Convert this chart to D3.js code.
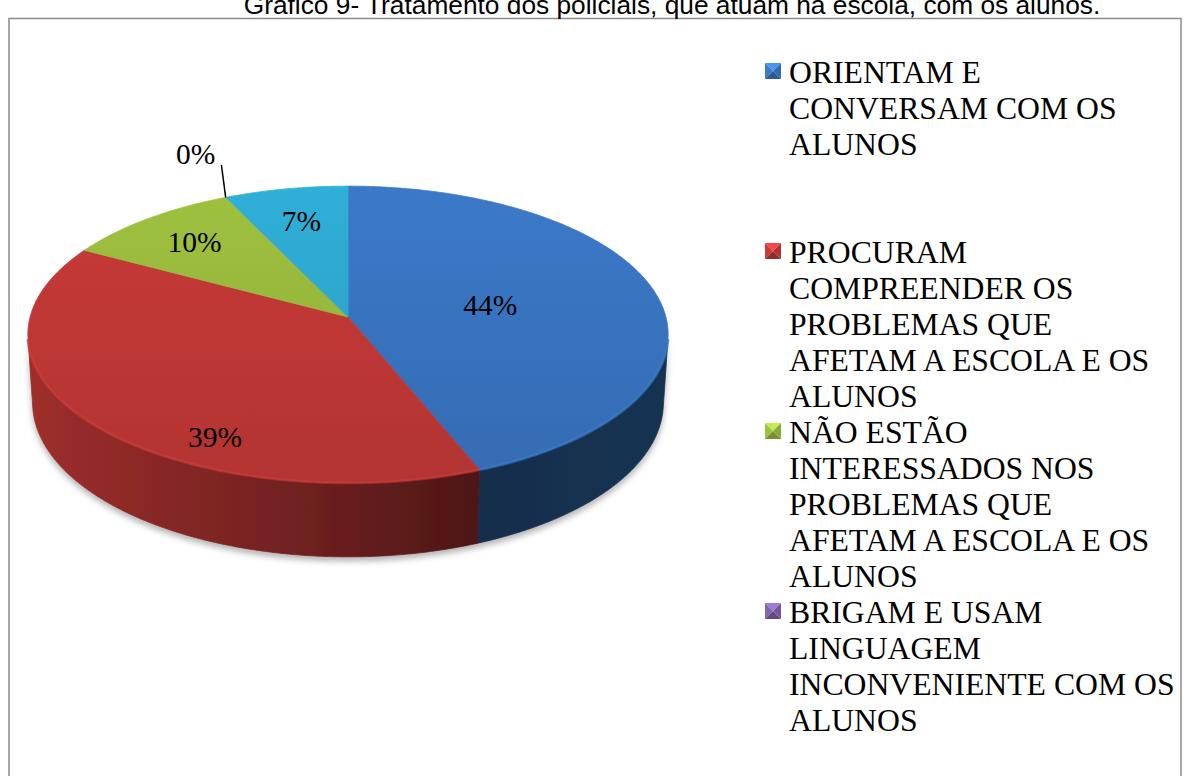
<!DOCTYPE html>
<html>
<head>
<meta charset="utf-8">
<script src="https://cdn.jsdelivr.net/npm/d3@7"></script>
<style>
  body { margin: 0; background: #fff; }
  svg { display: block; }
</style>
</head>
<body>
<svg id="grafico" width="1190" height="776"></svg>
<script>
// dados (rótulos em %)
const titulo = "Gráfico 9- Tratamento dos policiais, que atuam na escola, com os alunos."
const valores = [44, 39, 10, 0, 7]
const categorias = [
    ["ORIENTAM E", "CONVERSAM COM OS", "ALUNOS"],
    ["PROCURAM", "COMPREENDER OS", "PROBLEMAS QUE", "AFETAM A ESCOLA E OS", "ALUNOS"],
    ["NÃO ESTÃO", "INTERESSADOS NOS", "PROBLEMAS QUE", "AFETAM A ESCOLA E OS", "ALUNOS"],
    ["BRIGAM E USAM", "LINGUAGEM", "INCONVENIENTE COM OS", "ALUNOS"],
    [] // quinta entrada da legenda fica fora da área visível
]
const cores = ["#3974c0", "#c03836", "#98b93c", "#7d5fa6", "#2ea8cf"]

// posição dos rótulos (raio relativo e desvio de ângulo em graus)
const raioRotulo = [0.46, 0.84, 0.75, 1.4, 0.73]
const desvioRotulo = [0, -21.6, 0, 2, 0]

const svg = d3.select("#grafico")
const defs = svg.append("defs")

// moldura e título
svg.append("rect")
    .attr("x", 9).attr("y", 18.5)
    .attr("width", 1172).attr("height", 800)
    .attr("fill", "#fff")
    .attr("stroke", "#8c8c8c")
    .attr("stroke-width", 1.5)

svg.append("text")
    .attr("x", 672).attr("y", 14)
    .attr("text-anchor", "middle")
    .style("font-family", "'Liberation Sans', Arial, sans-serif")
    .style("font-size", "26.3px")
    .text(titulo)

// projeção em perspectiva da pizza 3D
const phi = 27.4 * Math.PI / 180
const dist = 7.54
const focal = 2397
const espessura = 0.244
const centro = {x: 348, y: 317}

function projetar(r, t, z) {
    const x = r * Math.sin(t)
    const y = r * Math.cos(t)
    const prof = y * Math.cos(phi) - z * Math.sin(phi) + dist
    const alto = y * Math.sin(phi) + z * Math.cos(phi)
    return [centro.x + focal * x / prof, centro.y - focal * alto / prof]
}

// faixa de ângulos em que a parede externa é visível
const limite = Math.acos(-1 / (dist * Math.cos(phi)))
const visIni = limite, visFim = 2 * Math.PI - limite

const pie = d3.pie().sort(null).startAngle(0).endAngle(2 * Math.PI)
const fatias = pie(valores)

function amostrar(a0, a1, z) {
    const n = Math.max(2, Math.ceil(Math.abs(a1 - a0) / (Math.PI / 360)))
    return d3.range(n + 1).map(i => projetar(1, a0 + (a1 - a0) * i / n, z))
}

const linha = d3.line()

// gradientes
fatias.forEach((d, i) => {
    const base = d3.color(cores[i])
    const gTopo = defs.append("linearGradient")
        .attr("id", "topo" + i)
        .attr("gradientUnits", "userSpaceOnUse")
        .attr("x1", 0).attr("y1", 186).attr("x2", 0).attr("y2", 490)
    gTopo.append("stop").attr("offset", 0).attr("stop-color", base.brighter(0.12))
    gTopo.append("stop").attr("offset", 1).attr("stop-color", base.darker(0.22))

    const gParede = defs.append("linearGradient")
        .attr("id", "parede" + i)
        .attr("gradientUnits", "userSpaceOnUse")
        .attr("x1", 30).attr("y1", 0).attr("x2", 666).attr("y2", 0)
    const paradas = [[0, 0.55], [0.45, 1.6], [0.72, 2.6], [1, 2.35]]
    for (const p of paradas) {
        gParede.append("stop").attr("offset", p[0]).attr("stop-color", base.darker(p[1]))
    }
})

const sombra = defs.append("filter").attr("id", "sombra")
    .attr("x", "-10%").attr("y", "-10%").attr("width", "120%").attr("height", "130%")
sombra.append("feDropShadow")
    .attr("dx", 0).attr("dy", 4).attr("stdDeviation", 3)
    .attr("flood-color", "#000").attr("flood-opacity", 0.3)

const pizza = svg.append("g")

// paredes laterais
const paredes = pizza.append("g").attr("filter", "url(#sombra)")
fatias.forEach((d, i) => {
    const a0 = Math.max(d.startAngle, visIni)
    const a1 = Math.min(d.endAngle, visFim)
    if (a1 <= a0) return
    const pts = amostrar(a0, a1, 0).concat(amostrar(a1, a0, -espessura))
    paredes.append("path")
        .attr("d", linha(pts) + "Z")
        .attr("fill", `url(#parede${i})`)
        .attr("stroke", `url(#parede${i})`)
        .attr("stroke-width", 0.8)
})

// faces superiores
fatias.forEach((d, i) => {
    if (d.endAngle - d.startAngle <= 0) return
    const pts = [projetar(0, 0, 0)].concat(amostrar(d.startAngle, d.endAngle, 0))
    pizza.append("path")
        .attr("d", linha(pts) + "Z")
        .attr("fill", `url(#topo${i})`)
        .attr("stroke", `url(#topo${i})`)
        .attr("stroke-width", 0.8)
})

// leve brilho na borda frontal
fatias.forEach((d, i) => {
    const a0 = Math.max(d.startAngle, visIni)
    const a1 = Math.min(d.endAngle, visFim)
    if (a1 <= a0) return
    pizza.append("path")
        .attr("d", linha(amostrar(a0, a1, 0)))
        .attr("fill", "none")
        .attr("stroke", d3.color(cores[i]).brighter(0.2))
        .attr("stroke-width", 3)
        .attr("stroke-opacity", 0.55)
})

// rótulos de dados
const rotulos = svg.append("g")
    .style("font-family", "'Liberation Serif', 'Times New Roman', serif")
    .style("font-size", "29.5px")

fatias.forEach((d, i) => {
    const meio = (d.startAngle + d.endAngle) / 2 + desvioRotulo[i] * Math.PI / 180
    const p = projetar(raioRotulo[i], meio, 0)
    const txt = rotulos.append("text")
        .attr("x", p[0]).attr("y", p[1])
        .attr("dy", "0.35em")
        .attr("text-anchor", "middle")
        .text(valores[i] + "%")
    if (raioRotulo[i] > 1) {
        // linha de chamada até a borda da fatia
        const caixa = txt.node().getBBox()
        const borda = projetar(1, d.startAngle, 0)
        rotulos.append("line")
            .attr("x1", caixa.x + caixa.width + 6)
            .attr("y1", caixa.y + caixa.height - 5)
            .attr("x2", borda[0]).attr("y2", borda[1])
            .attr("stroke", "#000").attr("stroke-width", 1.5)
    }
})

// legenda
const legenda = svg.append("g")
    .style("font-family", "'Liberation Serif', 'Times New Roman', serif")
    .style("font-size", "31.7px")

const passoLinha = 36
const passoItem = 180
categorias.forEach((linhas, i) => {
    if (linhas.length === 0) return
    const yBase = 83 + passoItem * i
    const x = 765, y = yBase - 20, s = 16
    const c = d3.color(cores[i])
    const m = [x + s / 2, y + s / 2]
    const tri = [
        [[x, y], [x + s, y], m, c.brighter(0.7)],
        [[x, y], [x, y + s], m, c.brighter(0.15)],
        [[x + s, y], [x + s, y + s], m, c.darker(0.25)],
        [[x, y + s], [x + s, y + s], m, c.darker(0.7)]
    ]
    for (const t of tri) {
        legenda.append("path")
            .attr("d", linha([t[0], t[1], t[2]]) + "Z")
            .attr("fill", t[3])
    }
    const texto = legenda.append("text").attr("x", 789).attr("y", yBase)
    linhas.forEach((l, j) => {
        texto.append("tspan")
            .attr("x", 789)
            .attr("y", yBase + j * passoLinha)
            .text(l)
    })
})
</script>
</body>
</html>
